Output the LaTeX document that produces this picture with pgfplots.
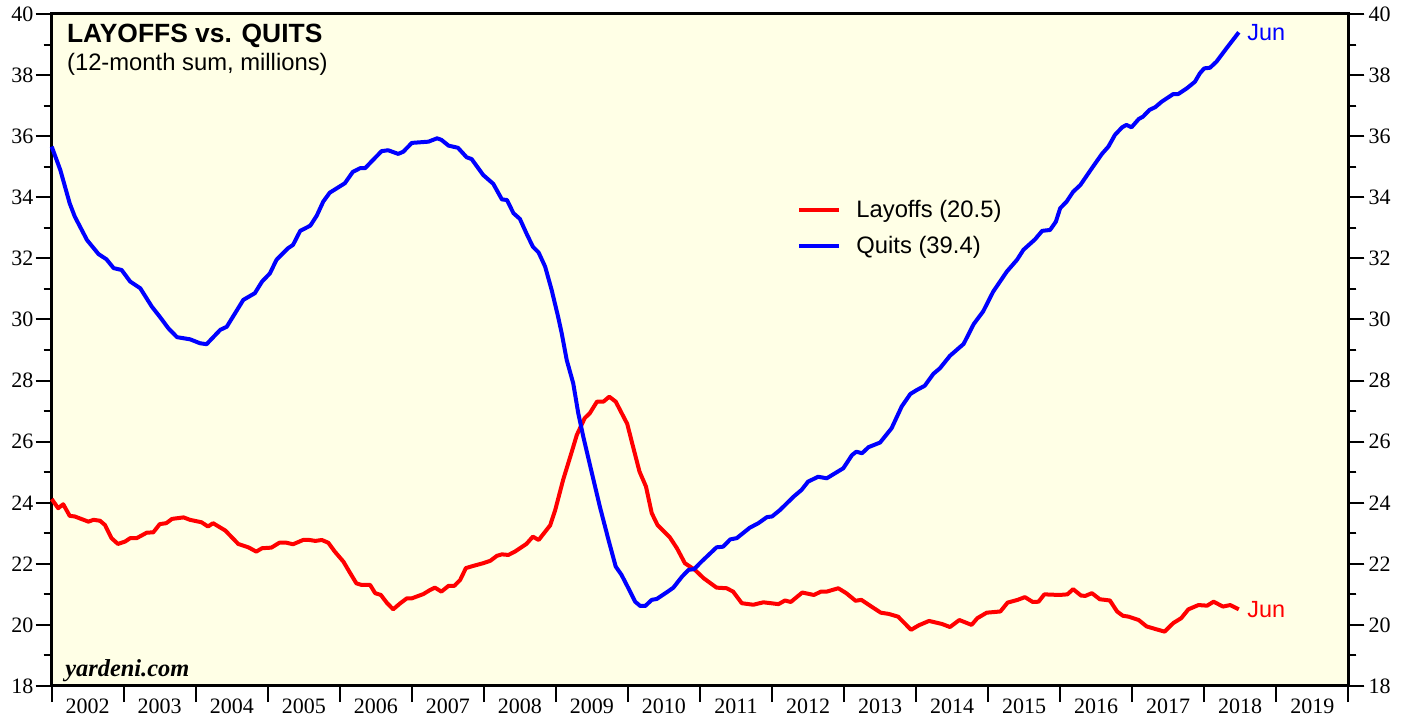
\documentclass[border=0pt]{standalone}
\usepackage{pgfplots}
\usepackage{pgfplotstable}
\pgfplotsset{compat=1.18}
\usepackage{fontspec}
\setmainfont{Liberation Serif}
\newfontfamily\arial{Liberation Sans}
\definecolor{bgyellow}{RGB}{255,255,230}
\definecolor{qblue}{RGB}{0,0,255}
\definecolor{lred}{RGB}{255,0,0}

\pgfplotstableread{
year value
2002.00 35.66
2002.12 34.89
2002.25 33.80
2002.32 33.37
2002.49 32.60
2002.65 32.14
2002.76 31.97
2002.86 31.68
2002.97 31.62
2003.09 31.24
2003.23 31.02
2003.39 30.42
2003.50 30.09
2003.62 29.71
2003.74 29.42
2003.92 29.35
2004.06 29.22
2004.15 29.19
2004.34 29.66
2004.43 29.76
2004.66 30.64
2004.82 30.86
2004.92 31.24
2005.03 31.51
2005.12 31.95
2005.28 32.33
2005.35 32.44
2005.45 32.90
2005.59 33.07
2005.68 33.40
2005.77 33.86
2005.86 34.15
2006.07 34.46
2006.18 34.83
2006.28 34.95
2006.35 34.95
2006.46 35.22
2006.58 35.51
2006.67 35.54
2006.81 35.42
2006.88 35.49
2007.00 35.78
2007.23 35.82
2007.35 35.93
2007.41 35.88
2007.51 35.69
2007.64 35.62
2007.76 35.31
2007.83 35.25
2007.99 34.73
2008.13 34.44
2008.25 33.93
2008.32 33.91
2008.41 33.48
2008.50 33.29
2008.59 32.82
2008.68 32.38
2008.76 32.19
2008.85 31.73
2008.94 30.97
2009.03 30.09
2009.08 29.55
2009.15 28.67
2009.24 27.91
2009.31 26.93
2009.38 26.16
2009.50 24.96
2009.61 23.87
2009.73 22.78
2009.83 21.91
2009.91 21.64
2010.03 21.09
2010.10 20.76
2010.17 20.62
2010.24 20.62
2010.33 20.82
2010.40 20.85
2010.54 21.07
2010.63 21.22
2010.75 21.58
2010.84 21.80
2010.92 21.83
2011.02 22.07
2011.23 22.54
2011.32 22.56
2011.42 22.80
2011.51 22.84
2011.69 23.18
2011.81 23.33
2011.93 23.53
2012.00 23.55
2012.11 23.76
2012.30 24.20
2012.41 24.42
2012.50 24.69
2012.64 24.85
2012.76 24.80
2012.99 25.13
2013.11 25.56
2013.17 25.67
2013.25 25.62
2013.34 25.82
2013.50 25.97
2013.66 26.44
2013.80 27.15
2013.92 27.56
2014.01 27.69
2014.12 27.83
2014.24 28.22
2014.33 28.40
2014.47 28.81
2014.66 29.20
2014.80 29.85
2014.93 30.26
2015.07 30.91
2015.26 31.57
2015.40 31.95
2015.49 32.28
2015.65 32.62
2015.75 32.90
2015.86 32.93
2015.94 33.20
2016.00 33.64
2016.09 33.86
2016.18 34.18
2016.28 34.40
2016.44 34.95
2016.58 35.42
2016.67 35.66
2016.76 36.04
2016.86 36.29
2016.92 36.37
2016.99 36.29
2017.09 36.56
2017.15 36.64
2017.24 36.86
2017.32 36.95
2017.41 37.13
2017.57 37.38
2017.64 37.38
2017.76 37.57
2017.87 37.78
2017.94 38.06
2018.00 38.22
2018.08 38.24
2018.17 38.44
2018.31 38.88
2018.48 39.40
}\quits

\pgfplotstableread{
year value
2002.00 24.12
2002.09 23.82
2002.16 23.95
2002.25 23.57
2002.32 23.55
2002.51 23.38
2002.58 23.44
2002.67 23.41
2002.74 23.27
2002.83 22.84
2002.92 22.65
2003.02 22.73
2003.09 22.84
2003.18 22.84
2003.32 23.02
2003.41 23.03
2003.50 23.30
2003.59 23.33
2003.67 23.47
2003.83 23.52
2003.92 23.44
2004.08 23.36
2004.17 23.22
2004.24 23.33
2004.41 23.09
2004.50 22.87
2004.59 22.65
2004.73 22.54
2004.84 22.40
2004.92 22.51
2005.05 22.53
2005.16 22.69
2005.26 22.69
2005.35 22.64
2005.49 22.78
2005.58 22.78
2005.66 22.75
2005.75 22.78
2005.84 22.69
2005.93 22.40
2006.05 22.07
2006.14 21.71
2006.23 21.36
2006.30 21.31
2006.42 21.31
2006.49 21.04
2006.57 20.98
2006.65 20.73
2006.74 20.51
2006.84 20.71
2006.93 20.87
2007.00 20.87
2007.16 21.01
2007.25 21.14
2007.32 21.22
2007.41 21.09
2007.51 21.28
2007.59 21.28
2007.67 21.47
2007.75 21.86
2007.85 21.93
2007.99 22.02
2008.09 22.10
2008.18 22.26
2008.25 22.31
2008.34 22.29
2008.43 22.40
2008.59 22.65
2008.68 22.89
2008.76 22.78
2008.92 23.26
2008.99 23.76
2009.10 24.75
2009.22 25.67
2009.29 26.22
2009.40 26.77
2009.47 26.93
2009.57 27.31
2009.66 27.31
2009.74 27.47
2009.83 27.31
2009.99 26.58
2010.07 25.84
2010.16 25.02
2010.25 24.53
2010.33 23.66
2010.41 23.27
2010.58 22.87
2010.68 22.51
2010.79 22.02
2010.93 21.80
2011.05 21.53
2011.23 21.22
2011.37 21.20
2011.46 21.09
2011.58 20.71
2011.74 20.66
2011.88 20.74
2012.09 20.68
2012.18 20.80
2012.26 20.75
2012.42 21.06
2012.58 20.98
2012.68 21.09
2012.76 21.09
2012.92 21.20
2013.03 21.04
2013.16 20.79
2013.24 20.82
2013.38 20.60
2013.51 20.40
2013.62 20.36
2013.75 20.27
2013.93 19.84
2014.04 19.99
2014.18 20.13
2014.36 20.03
2014.47 19.93
2014.60 20.16
2014.77 20.00
2014.85 20.22
2014.98 20.40
2015.17 20.44
2015.27 20.73
2015.41 20.82
2015.51 20.91
2015.62 20.75
2015.70 20.76
2015.78 21.00
2015.99 20.98
2016.10 21.00
2016.18 21.17
2016.29 20.96
2016.35 20.95
2016.44 21.04
2016.55 20.84
2016.69 20.80
2016.79 20.44
2016.87 20.30
2016.95 20.27
2017.09 20.16
2017.20 19.95
2017.33 19.86
2017.45 19.78
2017.57 20.06
2017.68 20.22
2017.78 20.51
2017.92 20.65
2018.04 20.63
2018.13 20.76
2018.26 20.60
2018.36 20.65
2018.48 20.51
}\layoffs

\begin{document}
\begin{tikzpicture}
\useasboundingbox (-25.85pt,-15.5pt) rectangle (678.15pt,343pt);
\begin{axis}[
  at={(0,0)}, anchor=south west,
  scale only axis, width=648.3pt, height=336pt,
  xmin=2002, xmax=2020, ymin=18, ymax=40,
  axis background/.style={fill=bgyellow},
  axis line style={line width=1.5pt, black},
  xtick={2002,2003,2004,2005,2006,2007,2008,2009,2010,2011,2012,2013,2014,2015,2016,2017,2018,2019,2020},
  xticklabels={2002,2003,2004,2005,2006,2007,2008,2009,2010,2011,2012,2013,2014,2015,2016,2017,2018,2019,{}},
  xticklabel style={xshift=18pt, inner sep=0pt, yshift=2pt, anchor=north},
  xtick pos=bottom,
  ytick={18,20,...,40},
  minor ytick={19,21,...,39},
  ytick pos=both,
  yticklabel pos=left,
  yticklabel style={inner sep=1pt},
  tick align=outside,
  major tick length=8pt, minor tick length=4pt,
  every tick/.style={line width=1pt, black},
  tick label style={font=\fontsize{11pt}{13pt}\selectfont},
  /pgf/number format/assume math mode=true,
  legend style={at={(rel axis cs:0.5748,0.733)}, anchor=north west, draw=none, fill=none,
    font=\arial\fontsize{11.9pt}{14pt}\selectfont, row sep=2pt, inner sep=0pt,
    nodes={inner sep=3pt}},
  legend cell align=left,
  legend image code/.code={\draw[#1, line width=2pt] (0pt,0pt) -- (20pt,0pt); \path (24.5pt,0pt);},
  clip=false,
]
\addplot[lred, line width=2pt, line join=round] table[x=year, y=value] {\layoffs}
  node[pos=1, anchor=west, text=lred, font=\arial\fontsize{11.7pt}{14pt}\selectfont] {Jun};
\addlegendentry{Layoffs (20.5)}
\addplot[qblue, line width=2pt, line join=round] table[x=year, y=value] {\quits}
  node[pos=1, anchor=west, text=qblue, font=\arial\fontsize{11.7pt}{14pt}\selectfont] {Jun};
\addlegendentry{Quits (39.4)}
\node[anchor=north west, inner sep=0pt, font=\arial\bfseries\fontsize{13.2pt}{15pt}\selectfont]
  at (rel axis cs:0,1) [xshift=7.5pt, yshift=-5pt] {LAYOFFS vs. QUITS};
\node[anchor=north west, inner sep=0pt, font=\arial\fontsize{11.9pt}{14pt}\selectfont]
  at (rel axis cs:0,1) [xshift=7.5pt, yshift=-19.5pt] {(12-month sum, millions)};
\node[anchor=base west, inner sep=0pt, font=\bfseries\itshape\fontsize{12.2pt}{14pt}\selectfont]
  at (rel axis cs:0,0) [xshift=6.6pt, yshift=4.5pt] {yardeni.com};
\end{axis}
\begin{axis}[
  at={(0,0)}, anchor=south west,
  scale only axis, width=648.3pt, height=336pt,
  xmin=2002, xmax=2020, ymin=18, ymax=40,
  hide x axis,
  axis y line*=right,
  axis line style={line width=1.5pt, black},
  ytick={18,20,...,40},
  minor ytick={19,21,...,39},
  yticklabel style={inner sep=2pt},
  tick align=outside,
  major tick length=8pt, minor tick length=4pt,
  every tick/.style={line width=1pt, black},
  tick label style={font=\fontsize{11pt}{13pt}\selectfont},
  /pgf/number format/assume math mode=true,
]
\end{axis}
\end{tikzpicture}
\end{document}
